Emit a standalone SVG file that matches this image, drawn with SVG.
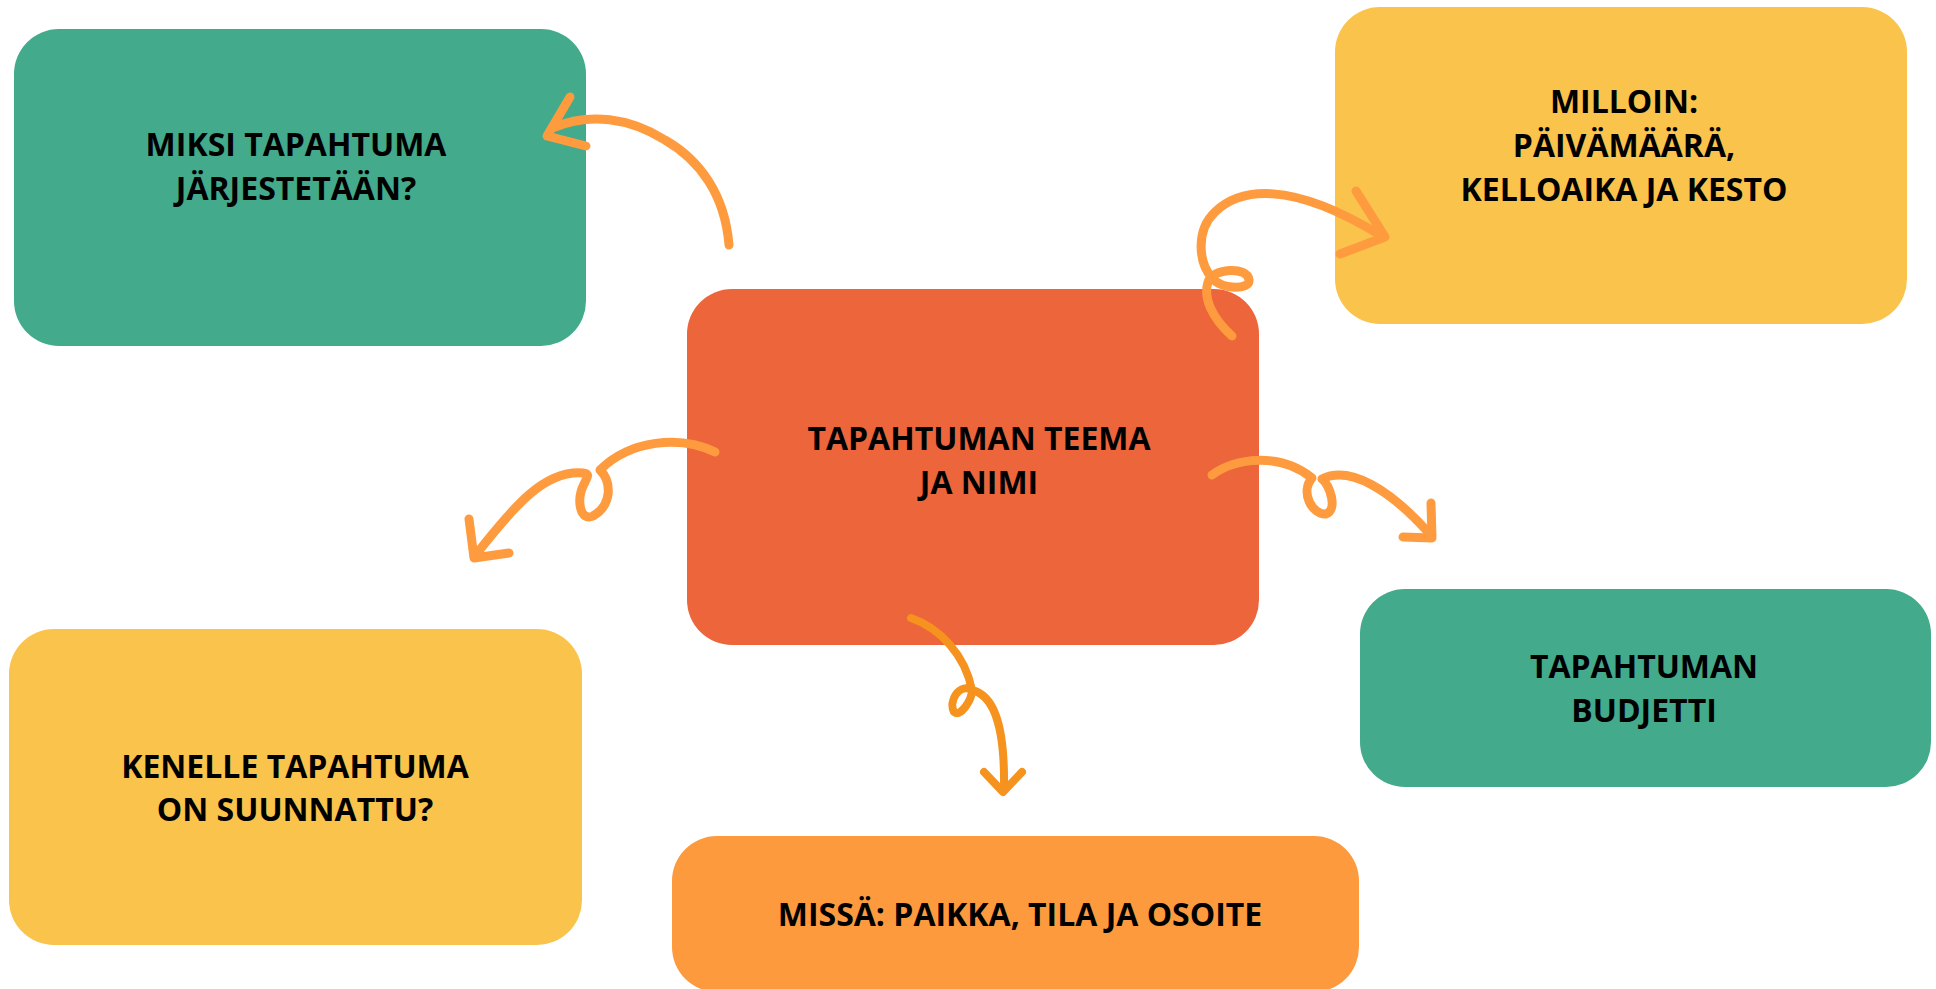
<svg xmlns="http://www.w3.org/2000/svg" width="1936" height="989" viewBox="0 0 1936 989">
<style>
text{font-family:"Open Sans","Noto Sans","Liberation Sans",sans-serif;font-weight:700;font-size:32px;fill:#000;text-anchor:middle}
.green{fill:#43AA8B}
.yellow{fill:#F9C34C}
.red{fill:#EC653B}
.orange{fill:#FE9A3E}
.ln{fill:none;stroke:#FF9B3F;stroke-width:9;stroke-linecap:round;stroke-linejoin:round}
.ln2{fill:none;stroke:#F6921E;stroke-width:8;stroke-linecap:round;stroke-linejoin:round}
</style>
<rect width="1936" height="989" fill="#fff"/>
<g id="node-miksi">
<rect class="green" x="14" y="29" width="572" height="317" rx="45"/>
<text x="296" y="156">MIKSI TAPAHTUMA</text>
<text x="296" y="200">JÄRJESTETÄÄN?</text>
</g>
<g id="node-milloin">
<rect class="yellow" x="1335" y="7" width="572" height="317" rx="45"/>
<text x="1624" y="113">MILLOIN:</text>
<text x="1624" y="157">PÄIVÄMÄÄRÄ,</text>
<text x="1624" y="201">KELLOAIKA JA KESTO</text>
</g>
<g id="node-teema">
<rect class="red" x="687" y="289" width="572" height="356" rx="45"/>
<text x="979" y="450">TAPAHTUMAN TEEMA</text>
<text x="979" y="494">JA NIMI</text>
</g>
<g id="node-kenelle">
<rect class="yellow" x="9" y="629" width="573" height="316" rx="45"/>
<text x="295" y="778">KENELLE TAPAHTUMA</text>
<text x="295" y="821">ON SUUNNATTU?</text>
</g>
<g id="node-budjetti">
<rect class="green" x="1360" y="589" width="571" height="198" rx="45"/>
<text x="1644" y="678">TAPAHTUMAN</text>
<text x="1644" y="722">BUDJETTI</text>
</g>
<g id="node-missa">
<rect class="orange" x="672" y="836" width="687" height="156" rx="45"/>
<text x="1020" y="926">MISSÄ: PAIKKA, TILA JA OSOITE</text>
</g>
<g id="connectors">
<path class="ln" d="M729,245 C725,195 700,160 665,140 C630,118 590,112 552,128"/>
<path class="ln" d="M570,97 L547,136 L586,146"/>
<path class="ln" d="M1232,336 C1212,318 1203,298 1208,282 C1212,268 1248,266 1249,280 C1250,290 1222,290 1212,278 C1198,262 1196,230 1215,212 C1240,188 1290,180 1380,235"/>
<path class="ln" d="M1356,191 L1385,237 L1340,254"/>
<path class="ln" d="M715,452 C680,435 630,440 600,470 C612,482 612,505 593,516 C580,522 576,500 584,484 C588,476 590,474 583,473 C545,470 515,505 478,552"/>
<path class="ln" d="M469,519 L474,558 L509,553"/>
<path class="ln" d="M1212,475 C1235,458 1280,452 1312,478 C1300,492 1312,515 1326,514 C1338,510 1330,485 1322,479 C1350,465 1390,490 1428,532"/>
<path class="ln" d="M1431,503 L1432,538 L1403,537"/>
<path class="ln2" d="M911,618 C940,628 965,655 972,690 C960,683 948,700 954,712 C960,718 972,700 972,690 C992,695 1005,720 1004,788"/>
<path class="ln2" d="M984,772 L1003,792 L1022,772"/>
</g>
</svg>
